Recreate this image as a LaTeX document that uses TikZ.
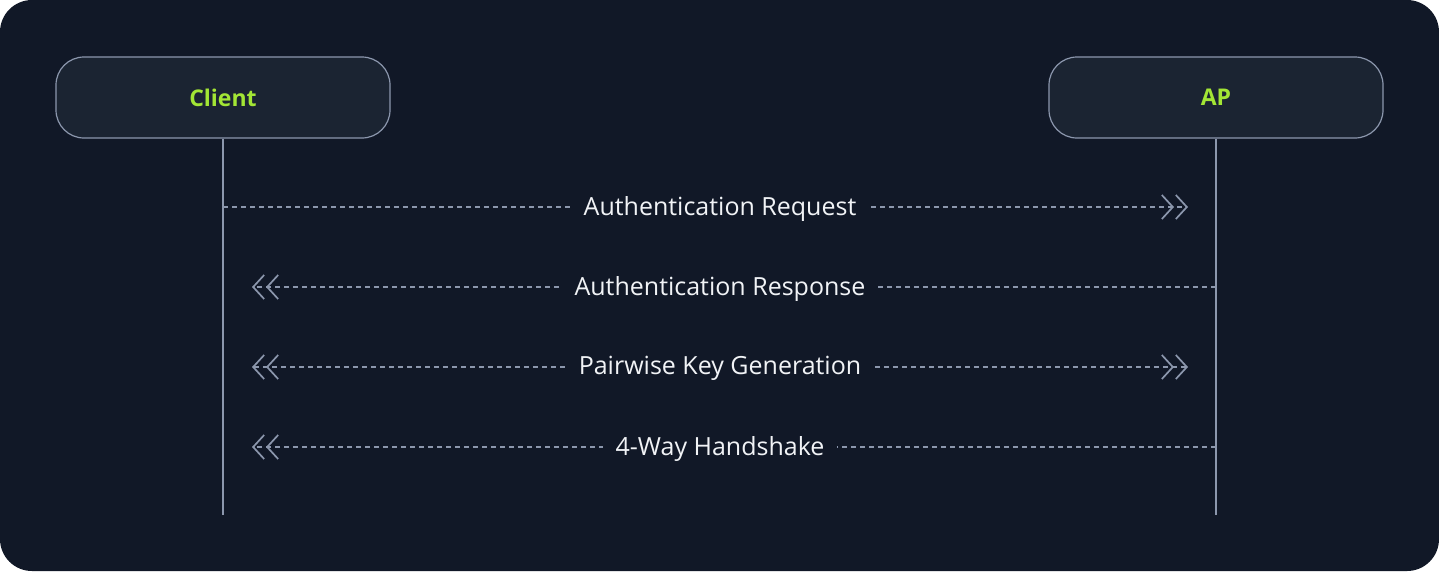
\documentclass[tikz,border=0pt]{standalone}
\usepackage{fontspec}
\setmainfont{Open Sans}
\usetikzlibrary{arrows.meta}
\definecolor{bgdark}{HTML}{111827}
\definecolor{boxfill}{HTML}{1B2432}
\definecolor{edge}{HTML}{8C97AD}
\definecolor{lime}{HTML}{A3E635}
\definecolor{txt}{HTML}{F1F3F6}
\tikzset{
  actor/.style={draw=edge, line width=1.2pt, fill=boxfill, rounded corners=28pt,
    minimum width=334pt, minimum height=81pt, text=lime, font=\fontsize{23}{26}\selectfont\bfseries},
  lifeline/.style={draw=edge, line width=1.5pt},
  msg/.style={draw=edge, line width=1.3pt, dash pattern=on 5pt off 4pt},
  tipR/.style={-{Straight Barb[length=11pt,width=24pt,line width=1.7pt,sep=1pt]Straight Barb[length=11pt,width=24pt,line width=1.7pt]}},
  tipB/.style={{Straight Barb[length=11pt,width=24pt,line width=1.7pt]Straight Barb[length=11pt,width=24pt,line width=1.7pt,sep=1pt]}-{Straight Barb[length=11pt,width=24pt,line width=1.7pt,sep=1pt]Straight Barb[length=11pt,width=24pt,line width=1.7pt]}},
  lab/.style={fill=bgdark, text=txt, inner xsep=13pt, inner ysep=4pt, font=\fontsize{25}{28}\selectfont}
}
\begin{document}
\begin{tikzpicture}[x=1pt,y=-1pt]
\useasboundingbox (0,0) rectangle (1439,571);
\fill[white] (0,0) rectangle (1439,571);
\fill[bgdark, rounded corners=32pt] (0,0) rectangle (1439,571);
\node[actor] (client) at (223,97.5) {Client};
\node[actor] (ap) at (1216,97.5) {AP};
\coordinate (cend) at (223,515);
\coordinate (aend) at (1216,515);
\draw[lifeline] (client.south) -- (cend);
\draw[lifeline] (ap.south) -- (aend);
% message 1
\coordinate (m1s) at (223,207);
\coordinate (m1e) at (1188,207);
\draw[msg, tipR] (m1s) -- (m1e);
\node[lab] (l1) at (720,208.5) {Authentication Request};
% message 2
\coordinate (m2s) at (1216,287);
\coordinate (m2e) at (252,287);
\draw[msg, tipR] (m2s) -- (m2e);
\node[lab] (l2) at (720,288.5) {Authentication Response};
% message 3
\coordinate (m3s) at (252,367);
\coordinate (m3e) at (1188,367);
\draw[msg, tipB] (m3s) -- (m3e);
\node[lab] (l3) at (720,368.5) {Pairwise Key Generation};
% message 4
\coordinate (m4s) at (1216,447);
\coordinate (m4e) at (252,447);
\draw[msg, tipR] (m4s) -- (m4e);
\node[lab] (l4) at (720,448.5) {4-Way Handshake};
\end{tikzpicture}
\end{document}
